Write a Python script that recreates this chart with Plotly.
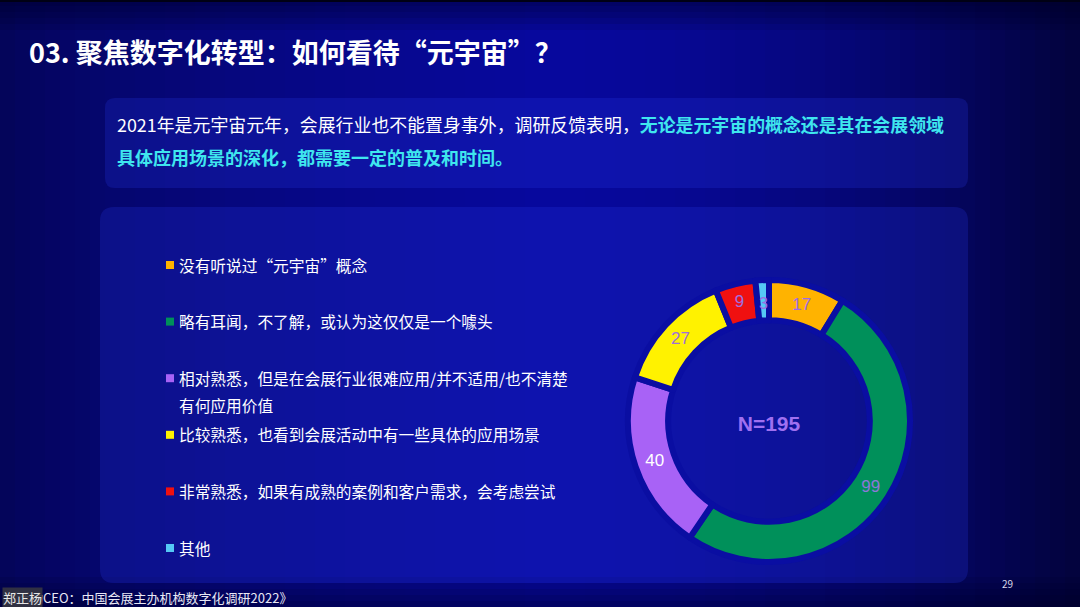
import math
import plotly.graph_objects as go

# ---------------- data ----------------
categories = [
    "没有听说过“元宇宙”概念",
    "略有耳闻，不了解，或认为这仅仅是一个噱头",
    "相对熟悉，但是在会展行业很难应用/并不适用/也不清楚\n有何应用价值",
    "比较熟悉，也看到会展活动中有一些具体的应用场景",
    "非常熟悉，如果有成熟的案例和客户需求，会考虑尝试",
    "其他",
]
counts = [17, 99, 40, 27, 9, 3]
colors = ["#FFB300", "#00905A", "#A862F6", "#FFF200", "#F01010", "#55C8F5"]
label_colors = ["#9C6CE6", "#8C78D8", "#FFFFFF", "#A070D8", "#A070E0", "#9C6CE6"]
total_label = "N=195"

title_text = "03. 聚焦数字化转型：如何看待“元宇宙”？"
box_line1_plain = "2021年是元宇宙元年，会展行业也不能置身事外，调研反馈表明，"
box_line1_hl = "无论是元宇宙的概念还是其在会展领域"
box_line2_hl = "具体应用场景的深化，都需要一定的普及和时间。"
source_text = "《活动CEO：中国会展主办机构数字化调研2022》"
watermark = "郑正杨"
page_no = "29"

W, H = 1080, 607
FONT = "Noto Sans CJK SC"


def X(px):
    return px / W


def Y(py):
    return 1 - py / H


shapes = []

# background gradient (vertical strips)
n = 72
for i in range(n):
    x0 = i * W / n
    x1 = (i + 1) * W / n
    xc = (x0 + x1) / 2
    if xc < 540:
        b = 0.55 + 0.45 * (xc / 540) ** 0.7
    else:
        b = 1 - 0.62 * ((xc - 540) / 540) ** 1.6
    r = int(8 * b)
    g = int(9 * b)
    bl = int(158 * b)
    shapes.append(dict(type="rect", xref="paper", yref="paper",
                       x0=X(x0), x1=X(x1) + 0.002, y0=0, y1=1,
                       fillcolor=f"rgb({r},{g},{bl})", line=dict(width=0),
                       layer="below"))
# top / bottom darkening
for k in range(6):
    a = 0.10
    shapes.append(dict(type="rect", xref="paper", yref="paper",
                       x0=0, x1=1, y0=Y(k * 6), y1=1,
                       fillcolor=f"rgba(0,0,30,{a})", line=dict(width=0),
                       layer="below"))
    shapes.append(dict(type="rect", xref="paper", yref="paper",
                       x0=0, x1=1, y0=0, y1=Y(H - k * 6),
                       fillcolor=f"rgba(0,0,30,{a})", line=dict(width=0),
                       layer="below"))
shapes.append(dict(type="rect", xref="paper", yref="paper", x0=0, x1=1,
                   y0=Y(2), y1=1, fillcolor="rgb(0,0,20)", line=dict(width=0),
                   layer="below"))


def rounded(x0, y0, x1, y1, r, fill):
    rx, ry = r / W, r / H
    a, b, c, d = X(x0), Y(y0), X(x1), Y(y1)
    path = (f"M {a+rx},{b} L {c-rx},{b} Q {c},{b} {c},{b-ry} "
            f"L {c},{d+ry} Q {c},{d} {c-rx},{d} L {a+rx},{d} "
            f"Q {a},{d} {a},{d+ry} L {a},{b-ry} Q {a},{b} {a+rx},{b} Z")
    return dict(type="path", xref="paper", yref="paper", path=path,
                fillcolor=fill, line=dict(width=0), layer="below")


shapes.append(rounded(105, 98, 968, 188, 10, "rgba(40,60,235,0.22)"))
shapes.append(rounded(100, 207, 968, 583, 14, "rgba(40,60,235,0.22)"))

annotations = []
# title
annotations.append(dict(text=f"<b>{title_text}</b>", x=X(27), y=Y(51),
                        xref="paper", yref="paper", xanchor="left",
                        yanchor="middle", showarrow=False,
                        font=dict(family=FONT, size=27, color="white")))
# box text
annotations.append(dict(
    text=(f"{box_line1_plain}<span style='color:#3FE6EE'><b>{box_line1_hl}</b></span>"),
    x=X(115), y=Y(124), xref="paper", yref="paper", xanchor="left",
    yanchor="middle", showarrow=False,
    font=dict(family=FONT, size=17.9, color="white")))
annotations.append(dict(
    text=f"<b>{box_line2_hl}</b>",
    x=X(115), y=Y(157), xref="paper", yref="paper", xanchor="left",
    yanchor="middle", showarrow=False,
    font=dict(family=FONT, size=18, color="#3FE6EE")))

# legend (custom)
leg_y0, leg_step = 265, 56.6
for i, (cat, col) in enumerate(zip(categories, colors)):
    yy = leg_y0 + i * leg_step
    shapes.append(dict(type="rect", xref="paper", yref="paper",
                       x0=X(166), x1=X(174), y0=Y(yy - 4), y1=Y(yy + 4),
                       fillcolor=col, line=dict(width=0)))
    for j, line in enumerate(cat.split("\n")):
        annotations.append(dict(text=line, x=X(177), y=Y(yy + j * 27),
                                xref="paper", yref="paper", xanchor="left",
                                yanchor="middle", showarrow=False,
                                font=dict(family=FONT, size=15.7, color="white")))

# footer
annotations.append(dict(text=source_text, x=X(2), y=Y(597), xref="paper",
                        yref="paper", xanchor="left", yanchor="middle",
                        showarrow=False,
                        font=dict(family=FONT, size=13, color="#E8E8F4")))
annotations.append(dict(text=watermark, x=X(2), y=Y(597), xref="paper",
                        yref="paper", xanchor="left", yanchor="middle",
                        showarrow=False, bgcolor="rgba(52,52,66,0.93)",
                        borderpad=0,
                        font=dict(family=FONT, size=13, color="#E6E6E6")))
annotations.append(dict(text=page_no, x=X(1007), y=Y(583), xref="paper",
                        yref="paper", xanchor="center", yanchor="middle",
                        showarrow=False,
                        font=dict(family=FONT, size=10, color="#D8D8E8")))

# donut
cx, cy, R = 769, 421, 141
HOLE = 0.715
total = sum(counts)
small = [v / total < 0.03 for v in counts]
pie_text = ["" if s else str(v) for v, s in zip(counts, small)]

# labels for slices too thin for plotly's inside text: placed at slice mid-angle
cum = 0
for v, s, col in zip(counts, small, label_colors):
    mid = (cum + v / 2) / total * 2 * math.pi
    cum += v
    if s:
        rr = R * (1 + HOLE) / 2 - 3
        annotations.append(dict(
            text=str(v), x=X(cx + rr * math.sin(mid)), y=Y(cy - rr * math.cos(mid)),
            xref="paper", yref="paper", xanchor="center", yanchor="middle",
            showarrow=False,
            font=dict(family="Liberation Sans, Arial", size=16, color=col)))

fig = go.Figure(go.Pie(
    values=counts,
    labels=[c.replace("\n", "") for c in categories],
    marker=dict(colors=colors, line=dict(color="#0A0EA2", width=6)),
    hole=HOLE,
    sort=False,
    direction="clockwise",
    rotation=0,
    text=pie_text,
    textinfo="text",
    textposition="inside",
    insidetextorientation="horizontal",
    textfont=dict(family="Liberation Sans, Arial", size=17, color=label_colors),
    hoverinfo="label+value",
    domain=dict(x=[X(cx - R), X(cx + R)], y=[Y(cy + R), Y(cy - R)]),
    title=dict(text=f"<b>{total_label}</b>", position="middle center",
               font=dict(family="Liberation Sans, Arial", size=21,
                         color="#A070F0")),
    showlegend=False,
))

fig.update_layout(
    width=W, height=H,
    margin=dict(l=0, r=0, t=0, b=0),
    paper_bgcolor="#06067A",
    plot_bgcolor="rgba(0,0,0,0)",
    shapes=shapes,
    annotations=annotations,
    showlegend=False,
    uniformtext=dict(minsize=16, mode="show"),
)

fig.write_html(
    "out.html",
    config={"displayModeBar": False},
    post_script="document.body.style.margin='0';document.body.style.overflow='hidden';",
)
